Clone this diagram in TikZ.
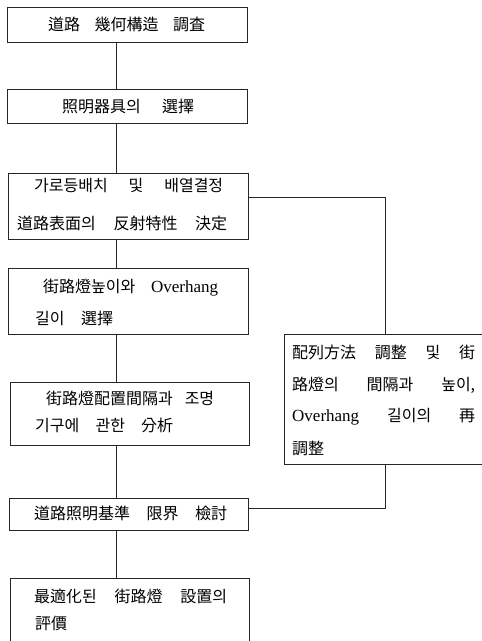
\documentclass[tikz,border=0pt]{standalone}
\usepackage{fontspec}
\setmainfont{Noto Sans CJK KR}
\newfontfamily\latinf{Liberation Serif}
\begin{document}
\begin{tikzpicture}[x=1pt,y=-1pt,
  box/.style={draw=black!85, line width=0.6pt, anchor=north west, inner sep=0pt},
  txt/.style={anchor=west, inner sep=0pt, font=\fontsize{16}{18}\selectfont},
  ln/.style={draw=black!85, line width=0.6pt}]
\useasboundingbox (0,0) rectangle (482,641);
\fill[white] (0,0) rectangle (482,641);
% boxes
\node[box, minimum width=240pt, minimum height=35pt] (b1) at (7,7) {};
\node[box, minimum width=240pt, minimum height=34pt] (b2) at (7,89) {};
\node[box, minimum width=240pt, minimum height=66pt] (b3) at (8,173) {};
\node[box, minimum width=240pt, minimum height=66pt] (b4) at (8,268) {};
\node[box, minimum width=239pt, minimum height=63pt] (b5) at (10,382) {};
\node[box, minimum width=239pt, minimum height=32pt] (b6) at (9,498) {};
\node[box, minimum width=239pt, minimum height=70pt] (b7) at (10,578) {};
\node[box, minimum width=198pt, minimum height=130pt] (r) at (284,334) {};
% texts
\node[txt] (t1) at (48,24) {\hbox to 157pt{道路\hfill 幾何構造\hfill 調査}};
\node[txt] (t2) at (62,106) {\hbox to 132pt{照明器具의\hfill 選擇}};
\node[txt] (t3a) at (34,186) {\hbox to 189pt{가로등배치\hfill 및\hfill 배열결정}};
\node[txt] (t3b) at (17,223) {\hbox to 210pt{道路表面의\hfill 反射特性\hfill 決定}};
\node[txt] (t4a) at (43,288) {\hbox to 175pt{街路燈높이와\hfill {\latinf\fontsize{17}{18}\selectfont Overhang}}};
\node[txt] (t4b) at (35,318) {\hbox to 78pt{길이\hfill 選擇}};
\node[txt] (t5a) at (46,398) {\hbox to 168pt{街路燈配置間隔과\hfill 조명}};
\node[txt] (t5b) at (35,425) {\hbox to 138pt{기구에\hfill 관한\hfill 分析}};
\node[txt] (t6) at (34,513) {\hbox to 193pt{道路照明基準\hfill 限界\hfill 檢討}};
\node[txt] (t7a) at (34,596) {\hbox to 193pt{最適化된\hfill 街路燈\hfill 設置의}};
\node[txt] (t7b) at (35,623) {評價};
\node[txt] (r1) at (292,352) {\hbox to 183pt{配列方法\hfill 調整\hfill 및\hfill 街}};
\node[txt] (r2) at (292,385) {\hbox to 183pt{路燈의\hfill 間隔과\hfill 높이,}};
\node[txt] (r3) at (292,417) {\hbox to 183pt{{\latinf\fontsize{17}{18}\selectfont Overhang}\hfill 길이의\hfill 再}};
\node[txt] (r4) at (292,448) {調整};
% connectors
\coordinate (cx) at (116,0);
\coordinate (rx) at (385,197);
\coordinate (jy) at (0,508);
\draw[ln] (b1.south -| cx) -- (b2.north -| cx);
\draw[ln] (b2.south -| cx) -- (b3.north -| cx);
\draw[ln] (b3.south -| cx) -- (b4.north -| cx);
\draw[ln] (b4.south -| cx) -- (b5.north -| cx);
\draw[ln] (b5.south -| cx) -- (b6.north -| cx);
\draw[ln] (b6.south -| cx) -- (b7.north -| cx);
\draw[ln] (b3.east |- rx) -- (rx) -- (r.north -| rx);
\draw[ln] (r.south -| rx) |- (b6.east |- jy);
\end{tikzpicture}
\end{document}
